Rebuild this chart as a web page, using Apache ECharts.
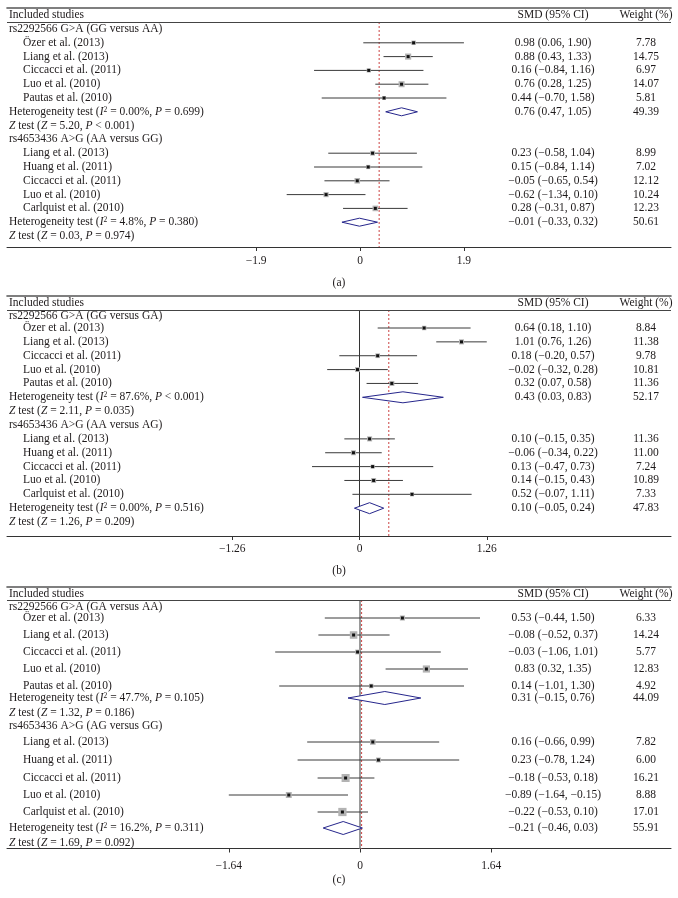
<!DOCTYPE html>
<html><head><meta charset="utf-8">
<script src="https://cdn.jsdelivr.net/npm/echarts@6/dist/echarts.min.js"></script>
<style>html,body{margin:0;padding:0;background:#fff}#c{width:678px;height:898px}</style>
</head><body><div id="c"></div>
<script>
// ---------------- DATA ----------------
const studiesG1 = ['Özer et al. (2013)', 'Liang et al. (2013)', 'Ciccacci et al. (2011)', 'Luo et al. (2010)', 'Pautas et al. (2010)'];
const studiesG2 = ['Liang et al. (2013)', 'Huang et al. (2011)', 'Ciccacci et al. (2011)', 'Luo et al. (2010)', 'Carlquist et al. (2010)'];
const headerTexts = ['Included studies', 'SMD (95% CI)', 'Weight (%)'];
const captions = ['(a)', '(b)', '(c)'];

// Panel (a)
const snpA = ['rs2292566 G>A (GG versus AA)', 'rs4653436 A>G (AA versus GG)'];
const estA = [0.98, 0.88, 0.16, 0.76, 0.44, 0.23, 0.15, -0.05, -0.62, 0.28];
const loA  = [0.06, 0.43, -0.84, 0.28, -0.70, -0.58, -0.84, -0.65, -1.34, -0.31];
const hiA  = [1.90, 1.33, 1.16, 1.25, 1.58, 1.04, 1.14, 0.54, 0.10, 0.87];
const wA   = [7.78, 14.75, 6.97, 14.07, 5.81, 8.99, 7.02, 12.12, 10.24, 12.23];
const poolEstA = [0.76, -0.01];
const poolLoA  = [0.47, -0.33];
const poolHiA  = [1.05, 0.32];
const poolWA   = [49.39, 50.61];
const hetI2A = ['0.00%', '4.8%'];
const hetPA  = ['= 0.699', '= 0.380'];
const zA     = ['5.20', '0.03'];
const zPA    = ['< 0.001', '= 0.974'];
const refA   = 0.35;
const ticksA = [-1.9, 0, 1.9];

// Panel (b)
const snpB = ['rs2292566 G>A (GG versus GA)', 'rs4653436 A>G (AA versus AG)'];
const estB = [0.64, 1.01, 0.18, -0.02, 0.32, 0.10, -0.06, 0.13, 0.14, 0.52];
const loB  = [0.18, 0.76, -0.20, -0.32, 0.07, -0.15, -0.34, -0.47, -0.15, -0.07];
const hiB  = [1.10, 1.26, 0.57, 0.28, 0.58, 0.35, 0.22, 0.73, 0.43, 1.11];
const wB   = [8.84, 11.38, 9.78, 10.81, 11.36, 11.36, 11.00, 7.24, 10.89, 7.33];
const poolEstB = [0.43, 0.10];
const poolLoB  = [0.03, -0.05];
const poolHiB  = [0.83, 0.24];
const poolWB   = [52.17, 47.83];
const hetI2B = ['87.6%', '0.00%'];
const hetPB  = ['< 0.001', '= 0.516'];
const zB     = ['2.11', '1.26'];
const zPB    = ['= 0.035', '= 0.209'];
const refB   = 0.29;
const ticksB = [-1.26, 0, 1.26];

// Panel (c)
const snpC = ['rs2292566 G>A (GA versus AA)', 'rs4653436 A>G (AG versus GG)'];
const estC = [0.53, -0.08, -0.03, 0.83, 0.14, 0.16, 0.23, -0.18, -0.89, -0.22];
const loC  = [-0.44, -0.52, -1.06, 0.32, -1.01, -0.66, -0.78, -0.53, -1.64, -0.53];
const hiC  = [1.50, 0.37, 1.01, 1.35, 1.30, 0.99, 1.24, 0.18, -0.15, 0.10];
const wC   = [6.33, 14.24, 5.77, 12.83, 4.92, 7.82, 6.00, 16.21, 8.88, 17.01];
const poolEstC = [0.31, -0.21];
const poolLoC  = [-0.15, -0.46];
const poolHiC  = [0.76, 0.03];
const poolWC   = [44.09, 55.91];
const hetI2C = ['47.7%', '16.2%'];
const hetPC  = ['= 0.105', '= 0.311'];
const zC     = ['1.32', '1.69'];
const zPC    = ['= 0.186', '= 0.092'];
const refC   = 0.02;
const ticksC = [-1.64, 0, 1.64];

// ---------------- LAYOUT (pixels) ----------------
function uniformRows(r0, pitch, n) { const a = []; for (let i = 0; i < n; i++) a.push(r0 + pitch * i); return a; }
const rowsLayoutB = [316].concat(uniformRows(328, 13.86, 15));
const LAYOUT = [
  { top: 7.5, bottom: 247, header: 14.5, rule2: 22, rows: uniformRows(29, 13.8, 16), zeroX: 360, scale: 54.7,
    labelMargin: 8, captionGap: 30, sizeK: 1.6, diamondH: 8, zeroLine: null },
  { top: 295.5, bottom: 536, header: 303, rule2: 310, rows: rowsLayoutB, zeroX: 359.5, scale: 101,
    labelMargin: 7, captionGap: 29, sizeK: 1.5, diamondH: 11, zeroLine: { color: '#333', width: 1 } },
  { top: 587, bottom: 848.5, header: 593.5, rule2: 600,
    rows: [607, 618, 635, 652, 669, 686, 698, 713, 726, 742, 760, 778, 795, 812, 828, 843],
    zeroX: 360, scale: 80, labelMargin: 11, captionGap: 25, sizeK: 2.0, diamondH: 13, zeroLine: { color: '#9a9a9a', width: 2 } }
];
const LEFT = 7, RIGHT = 671, SMD_X = 553, WT_X = 646;
const FONT = 'Liberation Serif';
const FS = 11.5;
const TXT = '#1e1a1b';
const REF_COLOR = '#cc4444';

// ---------------- BUILD ----------------
function num(v) { return (v < 0 ? '\u2212' : '') + Math.abs(v).toFixed(2); }
function ci(e, l, h) { return num(e) + ' (' + num(l) + ', ' + num(h) + ')'; }

function buildRows(snp, est, lo, hi, w, pE, pL, pH, pW, i2, hp, z, zp) {
  const rows = [];
  for (let g = 0; g < 2; g++) {
    rows.push({ left: snp[g], smd: '', wt: '', mark: null });
    const names = g === 0 ? studiesG1 : studiesG2;
    for (let k = 0; k < 5; k++) {
      const i = g * 5 + k;
      rows.push({ left: '{ind|\u00a0}' + names[k], smd: ci(est[i], lo[i], hi[i]), wt: w[i].toFixed(2),
                  mark: [est[i], lo[i], hi[i], w[i], 0] });
    }
    rows.push({ left: 'Heterogeneity test ({it|I}{sup|2} = ' + i2[g] + ', {it|P} ' + hp[g] + ')',
                smd: ci(pE[g], pL[g], pH[g]), wt: pW[g].toFixed(2), mark: [pE[g], pL[g], pH[g], pW[g], 1] });
    rows.push({ left: '{it|Z} test ({it|Z} = ' + z[g] + ', {it|P} ' + zp[g] + ')', smd: '', wt: '', mark: null });
  }
  return rows;
}

const panelRows = [
  buildRows(snpA, estA, loA, hiA, wA, poolEstA, poolLoA, poolHiA, poolWA, hetI2A, hetPA, zA, zPA),
  buildRows(snpB, estB, loB, hiB, wB, poolEstB, poolLoB, poolHiB, poolWB, hetI2B, hetPB, zB, zPB),
  buildRows(snpC, estC, loC, hiC, wC, poolEstC, poolLoC, poolHiC, poolWC, hetI2C, hetPC, zC, zPC)
];
const panelRefs = [refA, refB, refC];
const panelTicks = [ticksA, ticksB, ticksC];

const rich = {
  ind: { width: 14, fontFamily: FONT, fontSize: FS },
  it: { fontStyle: 'italic', fontFamily: FONT, fontSize: FS, color: TXT },
  sup: { fontSize: 7.5, fontFamily: FONT, color: TXT, verticalAlign: 'top', lineHeight: 8 }
};

const grids = [], xAxes = [], yAxes = [], series = [];
LAYOUT.forEach((L, p) => {
  const rows = panelRows[p];
  const xmin = (LEFT - L.zeroX) / L.scale, xmax = (RIGHT - L.zeroX) / L.scale;
  grids.push({ left: LEFT, width: RIGHT - LEFT, top: L.top, height: L.bottom - L.top, containLabel: false });

  xAxes.push({
    gridIndex: p, type: 'value', position: 'bottom', min: xmin, max: xmax,
    axisLine: { show: true, onZero: false, lineStyle: { color: '#333', width: 1 } },
    axisTick: { show: true, customValues: panelTicks[p], length: 4, lineStyle: { color: '#333', width: 1 } },
    axisLabel: { customValues: panelTicks[p], margin: L.labelMargin, fontFamily: FONT, fontSize: FS, color: TXT,
                 formatter: v => (Math.abs(v) < 1e-9 ? '0' : (v < 0 ? '\u2212' : '') + String(Math.abs(v))) },
    splitLine: { show: false },
    name: captions[p], nameLocation: 'middle', nameGap: L.captionGap,
    nameTextStyle: { fontFamily: FONT, fontSize: FS, color: TXT }
  });
  xAxes.push({
    gridIndex: p, type: 'value', position: 'top', min: xmin, max: xmax,
    axisLine: { show: true, onZero: false, lineStyle: { color: '#555', width: 1.6 } },
    axisTick: { show: false }, axisLabel: { show: false }, splitLine: { show: false }
  });

  const vals = [L.header].concat(L.rows);
  const leftTxt = [headerTexts[0]].concat(rows.map(r => r.left));
  const smdTxt = [headerTexts[1]].concat(rows.map(r => r.smd));
  const wtTxt = [headerTexts[2]].concat(rows.map(r => r.wt));
  const lookup = arr => v => { const i = vals.findIndex(x => Math.abs(x - v) < 0.01); return i >= 0 ? arr[i] : ''; };
  const baseY = {
    gridIndex: p, type: 'value', inverse: true, min: L.top, max: L.bottom,
    axisLine: { show: false }, axisTick: { show: false }, splitLine: { show: false }
  };
  yAxes.push(Object.assign({}, baseY, {
    position: 'left',
    axisLabel: { customValues: vals, inside: true, margin: 2, align: 'left', fontFamily: FONT, fontSize: FS,
                 color: TXT, rich: rich, formatter: lookup(leftTxt) }
  }));
  yAxes.push(Object.assign({}, baseY, {
    position: 'right',
    axisLabel: { customValues: vals, inside: true, margin: RIGHT - SMD_X, align: 'center', fontFamily: FONT,
                 fontSize: FS, color: TXT, formatter: lookup(smdTxt) }
  }));
  yAxes.push(Object.assign({}, baseY, {
    position: 'right',
    axisLabel: { customValues: vals, inside: true, margin: RIGHT - WT_X, align: 'center', fontFamily: FONT,
                 fontSize: FS, color: TXT, formatter: lookup(wtTxt) }
  }));

  const data = [];
  rows.forEach((r, i) => { if (r.mark) data.push([L.rows[i]].concat(r.mark)); });

  // zero line (solid) and pooled reference line (dashed), drawn as line series
  if (L.zeroLine) {
    series.push({
      type: 'line', xAxisIndex: p * 2, yAxisIndex: p * 3, symbol: 'none', silent: true, z: 1,
      data: [[0, L.rule2], [0, L.bottom]],
      lineStyle: { color: L.zeroLine.color, width: L.zeroLine.width, type: 'solid' }
    });
  }
  series.push({
    type: 'line', xAxisIndex: p * 2, yAxisIndex: p * 3, symbol: 'none', silent: true, z: 2,
    data: [[panelRefs[p], L.rule2], [panelRefs[p], L.bottom]],
    lineStyle: { color: REF_COLOR, width: 1, type: [2, 2] }
  });

  const K = L.sizeK, DH = L.diamondH;
  series.push({
    type: 'custom', xAxisIndex: p * 2, yAxisIndex: p * 3, clip: false,
    encode: { x: [1, 2, 3], y: 0 },
    data: data,
    renderItem: function (params, api) {
      const y = api.value(0), e = api.value(1), lo = api.value(2), hi = api.value(3), w = api.value(4), kind = api.value(5);
      const pL = api.coord([lo, y]), pH = api.coord([hi, y]), pE = api.coord([e, y]);
      if (kind === 1) {
        const h = DH / 2;
        return { type: 'polygon', z2: 5,
          shape: { points: [[pL[0], pE[1]], [pE[0], pE[1] - h], [pH[0], pE[1]], [pE[0], pE[1] + h]] },
          style: { fill: '#fff', stroke: '#26268c', lineWidth: 1 } };
      }
      const s = K * Math.sqrt(w);
      return { type: 'group', children: [
        { type: 'line', shape: { x1: pL[0], y1: pE[1], x2: pH[0], y2: pE[1] }, style: { stroke: '#3a3a3a', lineWidth: 1 } },
        { type: 'rect', shape: { x: pE[0] - s / 2, y: pE[1] - s / 2, width: s, height: s }, style: { fill: '#b3b3b3' } },
        { type: 'rect', shape: { x: pE[0] - 1.5, y: pE[1] - 1.5, width: 3, height: 3 }, style: { fill: '#111' } }
      ] };
    },
    markLine: { silent: true, animation: false, symbol: ['none', 'none'], label: { show: false },
                lineStyle: { color: '#444', width: 1, type: 'solid' }, data: [{ yAxis: L.rule2 }] },
    z: 3
  });
});

const chart = echarts.init(document.getElementById('c'), null, { renderer: 'canvas' });
chart.setOption({
  animation: false,
  backgroundColor: '#fff',
  grid: grids, xAxis: xAxes, yAxis: yAxes, series: series
});
</script></body></html>
